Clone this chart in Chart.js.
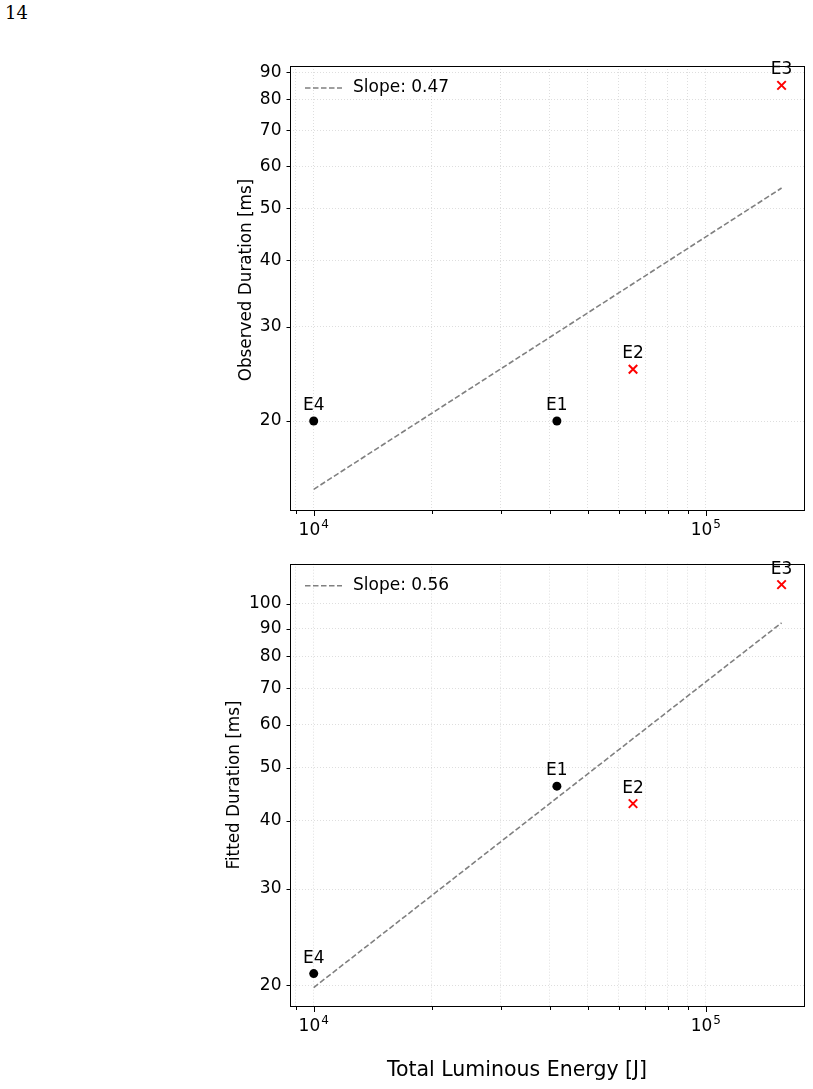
<!DOCTYPE html>
<html><head><meta charset="utf-8">
<script src="https://cdn.jsdelivr.net/npm/chart.js@4.4.0/dist/chart.umd.min.js"></script>
<style>
html,body{margin:0;padding:0;background:#fff;}
#wrap{position:relative;width:813px;height:1089px;overflow:hidden;}
#pg{position:absolute;left:5px;top:2px;font-family:"DejaVu Serif","Liberation Serif",serif;font-size:18px;color:#000;}
.c{position:absolute;left:0;width:813px;}
</style></head><body>
<div id="wrap">
<div id="pg">14</div>
<div class="c" style="top:0;height:545px"><canvas id="c1"></canvas></div>
<div class="c" style="top:545px;height:544px"><canvas id="c2"></canvas></div>
</div>
<script>
// ---- data ----
const events = ['E1', 'E2', 'E3', 'E4'];
const energy = [41700, 65200, 156000, 10000];
const observedDuration = [20, 25, 85, 20];
const fittedDuration = [46.3, 43.0, 108.3, 21.0];
const outlier = [false, true, true, false];
const fitEnergy = [10000, 156000];
const observedFit = [14.9, 54.6];
const fittedFit = [19.8, 92.2];
const observedSlope = '0.47';
const fittedSlope = '0.56';
const xTicks = [9000, 10000, 20000, 30000, 40000, 50000, 60000, 70000, 80000, 90000, 100000];
const xTickExponents = {10000: '4', 100000: '5'};
const observedTicks = [20, 30, 40, 50, 60, 70, 80, 90];
const fittedTicks = [20, 30, 40, 50, 60, 70, 80, 90, 100];
const xAxisTitle = 'Total Luminous Energy [J]';

const FONT = '"DejaVu Sans", sans-serif';

const labelPlugin = {
  id: 'pointLabels',
  afterDatasetsDraw(chart) {
    const ctx = chart.ctx;
    ctx.save();
    ctx.font = '17px ' + FONT;
    ctx.fillStyle = '#000';
    ctx.textAlign = 'center';
    ctx.textBaseline = 'bottom';
    chart.data.datasets.forEach((ds, di) => {
      if (!ds.isEvents) return;
      chart.getDatasetMeta(di).data.forEach((el, i) => {
        ctx.fillText(ds.data[i].label, el.x, el.y - 7);
      });
    });
    ctx.restore();
  }
};

const framePlugin = {
  id: 'frameLegend',
  afterDraw(chart) {
    const {ctx, chartArea: a, scales} = chart;
    const lay = chart.options.plugins.frameLegend;
    ctx.save();
    ctx.strokeStyle = '#000';
    ctx.lineWidth = 1;
    ctx.setLineDash([]);
    ctx.strokeRect(Math.round(a.left) + 0.5, Math.round(a.top) + 0.5,
      Math.round(a.right - a.left) - 1, Math.round(a.bottom - a.top) - 1);
    // tick marks
    ctx.beginPath();
    xTicks.forEach(v => {
      const px = Math.round(scales.x.getPixelForValue(v)) + 0.5;
      const len = xTickExponents[v] ? 5 : 3;
      ctx.moveTo(px, a.bottom);
      ctx.lineTo(px, a.bottom + len);
    });
    scales.y.ticks.forEach(t => {
      const py = Math.round(scales.y.getPixelForValue(t.value)) + 0.5;
      ctx.moveTo(a.left, py);
      ctx.lineTo(a.left - 3.5, py);
    });
    ctx.stroke();
    // x tick labels 10^n
    ctx.fillStyle = '#000';
    ctx.textBaseline = 'alphabetic';
    Object.keys(xTickExponents).forEach(k => {
      const v = Number(k);
      const px = scales.x.getPixelForValue(v);
      ctx.font = '17px ' + FONT;
      const wb = ctx.measureText('10').width;
      ctx.font = '12px ' + FONT;
      const we = ctx.measureText(xTickExponents[k]).width;
      const x0 = px - (wb + we + 1) / 2;
      ctx.font = '17px ' + FONT;
      ctx.textAlign = 'left';
      ctx.fillText('10', x0, a.bottom + 24);
      ctx.font = '12px ' + FONT;
      ctx.fillText(xTickExponents[k], x0 + wb + 1, a.bottom + 17);
    });
    // y title
    ctx.save();
    ctx.translate(lay.yTitleX, lay.yTitleY);
    ctx.rotate(-Math.PI / 2);
    ctx.font = '16.8px ' + FONT;
    ctx.textAlign = 'center';
    ctx.textBaseline = 'middle';
    ctx.fillText(lay.yTitle, 0, 0);
    ctx.restore();
    // x title
    if (lay.xTitle) {
      ctx.font = '20.5px ' + FONT;
      ctx.textAlign = 'center';
      ctx.textBaseline = 'middle';
      ctx.fillText(lay.xTitle, lay.xTitleX, lay.xTitleY);
    }
    // legend (no frame)
    const fit = chart.data.datasets[0];
    const ly = a.top + 22;
    ctx.strokeStyle = fit.borderColor;
    ctx.lineWidth = fit.borderWidth;
    ctx.setLineDash(fit.borderDash);
    ctx.beginPath();
    ctx.moveTo(a.left + 15, ly);
    ctx.lineTo(a.left + 52, ly);
    ctx.stroke();
    ctx.setLineDash([]);
    ctx.fillStyle = '#000';
    ctx.font = '17px ' + FONT;
    ctx.textAlign = 'left';
    ctx.textBaseline = 'middle';
    ctx.fillText(fit.label, a.left + 63, ly);
    ctx.restore();
  }
};

function makeChart(id, dur, fitVals, slope, yTicks, yMin, yMax, lay) {
  const pts = events.map((e, i) => ({x: energy[i], y: dur[i], label: e, o: outlier[i]}));
  return new Chart(document.getElementById(id), {
    data: {
      datasets: [
        {
          type: 'line',
          label: 'Slope: ' + slope,
          data: fitEnergy.map((x, i) => ({x: x, y: fitVals[i]})),
          borderColor: '#808080',
          borderWidth: 1.6,
          borderDash: [5.5, 2.5],
          pointRadius: 0,
          fill: false,
          order: 3
        },
        {
          type: 'scatter',
          isEvents: true,
          data: pts.filter(p => !p.o),
          pointStyle: 'circle',
          pointRadius: 4.5,
          backgroundColor: '#000',
          borderColor: '#000',
          borderWidth: 0,
          order: 2
        },
        {
          type: 'scatter',
          isEvents: true,
          data: pts.filter(p => p.o),
          pointStyle: 'crossRot',
          pointRadius: 6,
          borderColor: '#ff0000',
          borderWidth: 2,
          order: 1
        }
      ]
    },
    options: {
      responsive: true,
      maintainAspectRatio: false,
      animation: false,
      devicePixelRatio: 1,
      layout: {padding: lay.padding},
      plugins: {legend: {display: false}, tooltip: {enabled: false}, frameLegend: lay},
      scales: {
        x: {
          type: 'logarithmic',
          min: 8700,
          max: 179000,
          afterBuildTicks: s => { s.ticks = xTicks.map(v => ({value: v})); },
          afterFit: s => { s.height = lay.xHeight; },
          ticks: {
            autoSkip: false, maxRotation: 0, minRotation: 0, padding: 3,
            color: '#000', font: {family: FONT, size: 17},
            callback: () => ''
          },
          grid: {color: 'rgba(0,0,0,0.13)', lineWidth: 1, drawTicks: false},
          border: {display: false, dash: [1, 2]}
        },
        y: {
          type: 'logarithmic',
          min: yMin,
          max: yMax,
          afterBuildTicks: s => { s.ticks = yTicks.map(v => ({value: v})); },
          afterFit: s => { s.width = lay.yWidth; },
          ticks: {
            autoSkip: false, padding: 8.5, color: '#000', font: {family: FONT, size: 17},
            callback: v => String(v)
          },
          grid: {color: 'rgba(0,0,0,0.13)', lineWidth: 1, drawTicks: false},
          border: {display: false, dash: [1, 2]}
        }
      }
    },
    plugins: [labelPlugin, framePlugin]
  });
}

makeChart('c1', observedDuration, observedFit, observedSlope, observedTicks, 13.57, 92.4,
  {padding: {left: 233, right: 7, top: 66, bottom: 4}, yWidth: 57, xHeight: 30,
   yTitle: 'Observed Duration [ms]', yTitleX: 247, yTitleY: 280, xTitle: null});
makeChart('c2', fittedDuration, fittedFit, fittedSlope, fittedTicks, 18.24, 118.3,
  {padding: {left: 221, right: 7, top: 17, bottom: 2}, yWidth: 69, xHeight: 80,
   yTitle: 'Fitted Duration [ms]', yTitleX: 235, yTitleY: 240,
   xTitle: xAxisTitle, xTitleX: 517, xTitleY: 526});
</script>
</body></html>
